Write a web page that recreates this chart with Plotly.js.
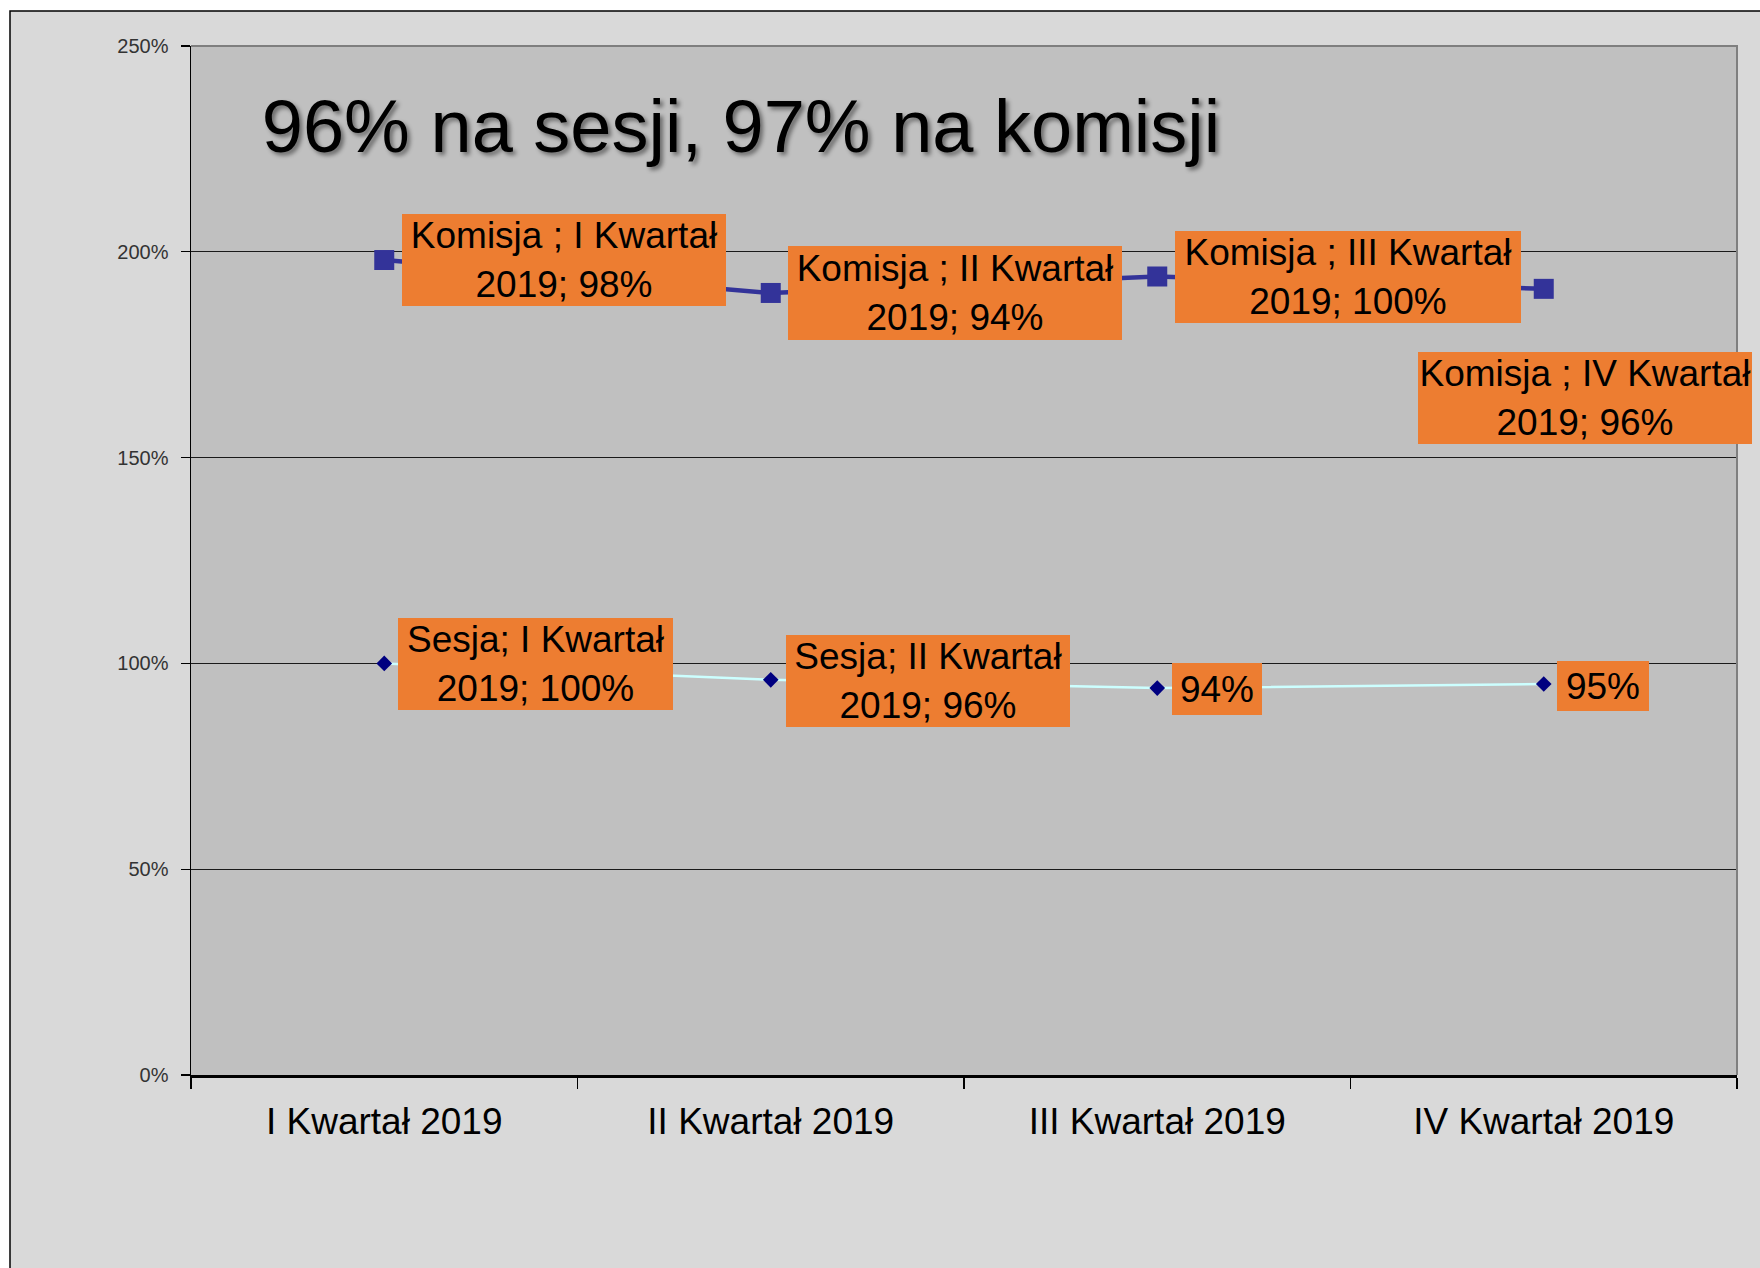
<!DOCTYPE html>
<html><head><meta charset="utf-8">
<script src="https://cdn.plot.ly/plotly-3.0.1.min.js"></script>
<style>html,body{margin:0;padding:0;background:#fff;}#chart{width:1760px;height:1268px;}</style>
</head><body><div id="chart"></div>
<script>
// ---- data ----
const categories = ['I Kwartał 2019', 'II Kwartał 2019', 'III Kwartał 2019', 'IV Kwartał 2019'];
const sesja = [100, 96, 94, 95];
const komisja = [98, 94, 100, 96];
const seriesNames = ['Sesja', 'Komisja '];
const yTickValues = [0, 50, 100, 150, 200, 250];
const yTickLabels = ['0%', '50%', '100%', '150%', '200%', '250%'];
const titleText = '96% na sesji, 97% na komisji';

// ---- label layout (positions/sizes only) ----
const sesjaLabelLayout = [
  {full: true,  dx: 14, dy: -1, w: 275, h: 92},
  {full: true,  dx: 15, dy: -1, w: 284, h: 92},
  {full: false, dx: 15, dy: -1, w: 90,  h: 52},
  {full: false, dx: 13, dy: -2, w: 92,  h: 50}
];
const komisjaLabelLayout = [
  {full: true, dx: 18, dy: 0,    w: 324, h: 92},
  {full: true, dx: 17, dy: 0,    w: 334, h: 94},
  {full: true, dx: 18, dy: 0,    w: 346, h: 92},
  {full: true, dx: -126, dy: -109, w: 334, h: 92}
];

const W = 1760, H = 1268;
const M = {l: 191, r: 23, t: 46, b: 193};
const pw = W - M.l - M.r, ph = H - M.t - M.b;
const px2x = x => (x - M.l) / pw;
const px2y = y => (H - M.b - y) / ph;

function labelText(name, cat, v, full) {
  if (!full) return v + '%';
  const i = cat.lastIndexOf(' ');
  return name + '; ' + cat.slice(0, i) + '<br>' + cat.slice(i + 1) + '; ' + v + '%';
}

const labelFont = {family: 'Liberation Sans, Arial, sans-serif', size: 37, color: '#000'};
const annotations = [];
categories.forEach((c, i) => {
  const s = sesjaLabelLayout[i];
  annotations.push({
    x: c, y: sesja[i], xref: 'x', yref: 'y',
    text: labelText(seriesNames[0], c, sesja[i], s.full),
    showarrow: false, xanchor: 'left', yanchor: 'middle',
    xshift: s.dx, yshift: s.dy, width: s.w, height: s.h,
    bgcolor: '#ED7D31', borderpad: 0, borderwidth: 0,
    align: 'center', valign: 'middle', font: labelFont
  });
});
categories.forEach((c, i) => {
  const s = komisjaLabelLayout[i];
  annotations.push({
    x: c, y: sesja[i] + komisja[i], xref: 'x', yref: 'y',
    text: labelText(seriesNames[1], c, komisja[i], s.full),
    showarrow: false, xanchor: 'left', yanchor: 'middle',
    xshift: s.dx, yshift: s.dy, width: s.w, height: s.h,
    bgcolor: '#ED7D31', borderpad: 0, borderwidth: 0,
    align: 'center', valign: 'middle', font: labelFont
  });
});

const traces = [
  {
    type: 'scatter', name: seriesNames[0], x: categories, y: sesja,
    stackgroup: 'one', fill: 'none', mode: 'lines+markers',
    line: {color: '#CCFFFF', width: 2.5},
    marker: {symbol: 'diamond', size: 12, color: '#000080'},
    hoverinfo: 'skip'
  },
  {
    type: 'scatter', name: seriesNames[1], x: categories, y: komisja,
    stackgroup: 'one', fill: 'none', mode: 'lines+markers',
    line: {color: '#333399', width: 4.5},
    marker: {symbol: 'square', size: 20, color: '#333399'},
    hoverinfo: 'skip'
  }
];

const layout = {
  width: W, height: H,
  margin: {l: M.l, r: M.r, t: M.t, b: M.b, pad: 0},
  paper_bgcolor: '#d9d9d9', plot_bgcolor: '#c0c0c0',
  showlegend: false,
  title: {
    text: titleText,
    font: {family: 'Liberation Sans, Arial, sans-serif', size: 74, color: '#000', shadow: '3px 3px 4px rgba(0,0,0,0.45)'},
    xref: 'container', yref: 'container', x: 741 / W, y: 1 - 126 / H,
    xanchor: 'center', yanchor: 'middle'
  },
  xaxis: {
    type: 'category', range: [-0.5, 3.5], tickson: 'boundaries',
    ticks: 'outside', ticklen: 11, tickwidth: 1.5, tickcolor: '#000',
    showline: true, linecolor: '#000', linewidth: 2.5, showgrid: false, zeroline: false,
    tickfont: {family: 'Liberation Sans, Arial, sans-serif', size: 37, color: '#000'},
    ticklabelstandoff: 12, fixedrange: true
  },
  yaxis: {
    range: [0, 250], tickmode: 'array', tickvals: yTickValues, ticktext: yTickLabels,
    ticks: 'outside', ticklen: 9, tickwidth: 1.2, tickcolor: '#000',
    showline: true, linecolor: '#000', linewidth: 1.5,
    showgrid: true, gridcolor: '#1a1a1a', gridwidth: 1.2, zeroline: false,
    tickfont: {family: 'Liberation Sans, Arial, sans-serif', size: 20, color: '#333'},
    ticklabelstandoff: 8, fixedrange: true
  },
  shapes: [
    {type: 'rect', xref: 'paper', yref: 'paper', layer: 'below',
     x0: px2x(-10), x1: px2x(1800), y0: px2y(11), y1: px2y(-10),
     fillcolor: '#ffffff', line: {width: 0}},
    {type: 'rect', xref: 'paper', yref: 'paper', layer: 'below',
     x0: px2x(-10), x1: px2x(10), y0: px2y(1300), y1: px2y(-10),
     fillcolor: '#ffffff', line: {width: 0}},
    {type: 'path', xref: 'paper', yref: 'paper', layer: 'below',
     path: 'M ' + px2x(10) + ',' + px2y(1300) + ' L ' + px2x(10) + ',' + px2y(11) + ' L ' + px2x(1800) + ',' + px2y(11),
     line: {color: '#000', width: 1.5}},
    {type: 'path', xref: 'paper', yref: 'paper', layer: 'above',
     path: 'M 0,1 L 1,1 L 1,0', line: {color: '#7f7f7f', width: 2}}
  ],
  annotations: annotations
};

Plotly.newPlot('chart', traces, layout, {displayModeBar: false, staticPlot: true});
</script>
</body></html>
